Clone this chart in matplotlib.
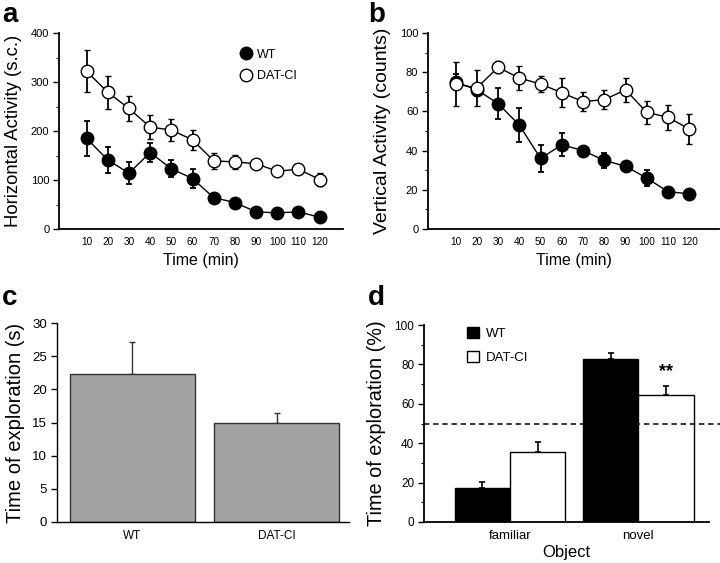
import matplotlib
matplotlib.use("Agg")
import matplotlib.pyplot as plt
import numpy as np
from matplotlib.ticker import MultipleLocator, NullLocator
from matplotlib.lines import Line2D

plt.rcParams['font.family'] = ['Liberation Sans', 'DejaVu Sans']

# ---- data ----
time_min = [10, 20, 30, 40, 50, 60, 70, 80, 90, 100, 110, 120]
time_labels = ['10', '20', '30', '40', '50', '60', '70', '80', '90', '100', '110', '120']

horiz_wt = [185, 141, 114, 156, 123, 103, 64, 54, 35, 33, 35, 24]
horiz_wt_err = [36, 27, 22, 20, 17, 20, 8, 8, 6, 5, 5, 4]
horiz_dat = [322, 279, 246, 208, 202, 182, 139, 137, 133, 118, 122, 101]
horiz_dat_err = [43, 34, 25, 24, 23, 21, 16, 14, 8, 8, 10, 13]

vert_wt = [75, 71, 64, 53, 36, 43, 40, 35, 32, 26, 19, 18]
vert_wt_err = [4, 3, 8, 8.5, 7, 6, 2, 4, 2, 4, 2, 2]
vert_dat = [74, 72, 82.5, 77, 74, 69.5, 65, 66, 71, 59.5, 57, 51]
vert_dat_err = [11, 9, 3, 6, 4, 7.5, 5, 5, 6, 6, 6.5, 7.5]

c_groups = ['WT', 'DAT-CI']
c_values = [22.3, 15.0]
c_err = [4.9, 1.5]

d_objects = ['familiar', 'novel']
d_wt = [17.3, 82.7]
d_wt_err = [3.2, 3.2]
d_dat = [35.4, 64.4]
d_dat_err = [5.0, 4.8]
chance_level = 50

fig = plt.figure(figsize=(7.2, 5.63), dpi=100)
W, H = 720, 563

def add_ax(l, r, t, b):
    return fig.add_axes([l / W, (H - b) / H, (r - l) / W, (b - t) / H])

def style(ax, ysize=8, xsize=7.2):
    for s in ['top', 'right']:
        ax.spines[s].set_visible(False)
    ax.spines['left'].set_linewidth(1.3)
    ax.spines['bottom'].set_linewidth(1.3)
    ax.tick_params(axis='y', direction='out', length=4, width=1.0, labelsize=ysize, pad=3)
    ax.tick_params(axis='y', which='minor', direction='out', length=2, width=0.8)
    ax.tick_params(axis='x', length=0, labelsize=xsize, pad=6)

# ---- panel a ----
axa = add_ax(59, 343, 33, 229)
style(axa)
axa.errorbar(time_min, horiz_wt, yerr=horiz_wt_err, color='black', lw=1.0,
             marker='o', ms=9, mfc='black', mec='black', elinewidth=1.3,
             capsize=2.5, capthick=1.3, zorder=3)
axa.errorbar(time_min, horiz_dat, yerr=horiz_dat_err, color='black', lw=1.0,
             marker='o', ms=9, mfc='white', mec='black', mew=1.0, elinewidth=1.3,
             capsize=2.5, capthick=1.3, zorder=4)
axa.set_xlim(-3, 131)
axa.set_ylim(0, 400)
axa.set_xticks(time_min)
axa.set_xticklabels(time_labels)
axa.yaxis.set_major_locator(MultipleLocator(100))
axa.yaxis.set_minor_locator(MultipleLocator(50))
axa.set_ylabel('Horizontal Activity (s.c.)', fontsize=13.3, labelpad=6)
axa.set_xlabel('Time (min)', fontsize=11.5, labelpad=4)
leg_h = [Line2D([], [], ls='none', marker='o', ms=9, mfc='black', mec='black'),
         Line2D([], [], ls='none', marker='o', ms=9, mfc='white', mec='black')]
axa.legend(leg_h, ['WT', 'DAT-CI'], loc='upper left', bbox_to_anchor=(0.60, 0.965),
           frameon=False, fontsize=9, handletextpad=0.3, borderaxespad=0.3,
           labelspacing=0.75, handlelength=1.2)

# ---- panel b ----
axb = add_ax(428, 719, 33, 229)
style(axb)
axb.errorbar(time_min, vert_wt, yerr=vert_wt_err, color='black', lw=1.0,
             marker='o', ms=9, mfc='black', mec='black', elinewidth=1.3,
             capsize=2.5, capthick=1.3, zorder=3)
axb.errorbar(time_min, vert_dat, yerr=vert_dat_err, color='black', lw=1.0,
             marker='o', ms=9, mfc='white', mec='black', mew=1.0, elinewidth=1.3,
             capsize=2.5, capthick=1.3, zorder=4)
axb.set_xlim(-3, 134)
axb.set_ylim(0, 100)
axb.set_xticks(time_min)
axb.set_xticklabels(time_labels)
axb.yaxis.set_major_locator(MultipleLocator(20))
axb.yaxis.set_minor_locator(MultipleLocator(10))
axb.set_ylabel('Vertical Activity (counts)', fontsize=14, labelpad=6)
axb.set_xlabel('Time (min)', fontsize=11.5, labelpad=4)

# ---- panel c ----
axc = add_ax(57, 349, 323, 522)
style(axc, ysize=9.5, xsize=8.5)
axc.spines['left'].set_linewidth(1.0)
axc.spines['bottom'].set_linewidth(1.0)
xc = np.arange(len(c_groups))
axc.bar(xc, c_values, width=0.865, color='#a3a3a3', edgecolor='#333333', linewidth=1.0, zorder=2)
axc.errorbar(xc, c_values, yerr=[np.zeros(len(c_err)), c_err], fmt='none',
             ecolor='#333333', elinewidth=1.0, capsize=2, capthick=1.0, zorder=1)
axc.set_xlim(-0.52, 1.5)
axc.set_ylim(0, 30)
axc.set_xticks(xc)
axc.set_xticklabels(c_groups)
axc.yaxis.set_major_locator(MultipleLocator(5))
axc.yaxis.set_minor_locator(NullLocator())
axc.set_ylabel('Time of exploration (s)', fontsize=14.5, labelpad=5)

# ---- panel d ----
axd = add_ax(424, 709, 325, 522)
style(axd, ysize=8.5, xsize=9.5)
xd = np.arange(len(d_objects))
bw = 0.43
axd.bar(xd - bw / 2, d_wt, width=bw, color='black', edgecolor='black', linewidth=1.0,
        label='WT', zorder=2)
axd.bar(xd + bw / 2, d_dat, width=bw, color='white', edgecolor='black', linewidth=1.0,
        label='DAT-CI', zorder=2)
axd.errorbar(xd - bw / 2, d_wt, yerr=[np.zeros(2), d_wt_err], fmt='none', ecolor='black',
             elinewidth=1.2, capsize=2, capthick=1.2, zorder=1)
axd.errorbar(xd + bw / 2, d_dat, yerr=[np.zeros(2), d_dat_err], fmt='none', ecolor='black',
             elinewidth=1.2, capsize=2, capthick=1.2, zorder=1)
axd.plot([-0.67, 1.68], [chance_level, chance_level], ls=(0, (3.5, 2.5)), color='black',
         lw=1.1, zorder=3, clip_on=False)
axd.text(1 + bw / 2, d_dat[1] + d_dat_err[1] + 3, '**', ha='center', va='bottom',
         fontsize=13, fontweight='bold')
axd.set_xlim(-0.67, 1.55)
axd.set_ylim(0, 100)
axd.set_xticks(xd)
axd.set_xticklabels(d_objects)
axd.yaxis.set_major_locator(MultipleLocator(20))
axd.yaxis.set_minor_locator(MultipleLocator(10))
axd.set_ylabel('Time of exploration (%)', fontsize=14.3, labelpad=6)
axd.set_xlabel('Object', fontsize=12, labelpad=2)
axd.legend(loc='upper left', bbox_to_anchor=(0.11, 1.05), frameon=False, fontsize=9.5,
           handlelength=0.9, handleheight=0.9, handletextpad=0.5, labelspacing=0.85)

# ---- panel letters ----
for txt, x, y in [('a', 2, 2), ('b', 368, 2), ('c', 2, 285), ('d', 368, 285)]:
    fig.text(x / W, 1 - y / H, txt, fontsize=20, fontweight='bold', ha='left', va='top')

fig.savefig('out.png', dpi=100)
